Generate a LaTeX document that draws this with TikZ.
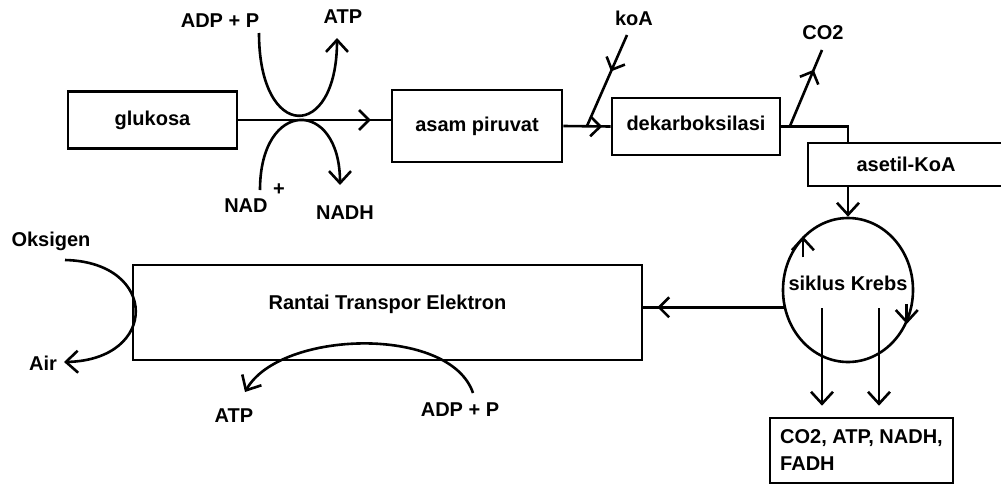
\documentclass[tikz,border=0pt]{standalone}
\usepackage{fontspec}
\setmainfont{Liberation Sans}
\usetikzlibrary{arrows.meta,decorations.markings,shapes.geometric}

\tikzset{
  kotak/.style={draw,line width=2.6pt,inner sep=0pt},
  teks/.style={inner sep=0pt,font=\fontsize{20}{27}\selectfont\bfseries},
  panah/.style={-{Straight Barb[length=12pt,width=22pt]}},
  tengah/.style={postaction={decorate},decoration={markings,
    mark=at position #1 with {\arrow{Straight Barb[length=10pt,width=20pt]}}}}
}

\begin{document}
\begin{tikzpicture}[x=1pt,y=-1pt,line width=2.6pt]
  \useasboundingbox (0,0) rectangle (1001,485);
  % kotak
  \node[kotak,teks,minimum width=169pt,minimum height=57pt] (glukosa) at (152.5,120) {glukosa};
  \node[kotak,teks,minimum width=170pt,minimum height=72pt] (asam) at (477,126) {asam piruvat};
  \node[kotak,teks,minimum width=168pt,minimum height=57pt,text depth=6pt] (dekar) at (696,126.5) {dekarboksilasi};
  \node[kotak,teks,minimum width=196pt,minimum height=43pt] (asetil) at (906,164.5) {asetil-KoA};
  \node[kotak,teks,ellipse,minimum width=130pt,minimum height=144pt,text height=0pt,text depth=0pt] (krebs) at (848,290) {\makebox[0pt]{siklus Krebs}};
  \node[kotak,teks,minimum width=509pt,minimum height=95pt,text depth=20pt] (rantai) at (387.5,312.5) {Rantai Transpor Elektron};
  \node[kotak,teks,minimum width=183pt,minimum height=65pt,align=left] (hasil) at (861.5,450.5) {CO2, ATP, NADH,\\FADH};
  % label
  \node[teks] (adp1) at (220,21) {ADP + P};
  \node[teks] (atp1) at (343,17) {ATP};
  \node[teks,anchor=base west] (nad) at (223,212) {NAD \raisebox{17pt}{+}};
  \node[teks] (nadh) at (345,213) {NADH};
  \node[teks] (koa) at (634,18) {koA};
  \node[teks] (co2) at (823,33) {CO2};
  \node[teks] (oksigen) at (51,241) {Oksigen};
  \node[teks] (air) at (43,363) {Air};
  \node[teks] (atp2) at (234,416) {ATP};
  \node[teks] (adp2) at (460,410) {ADP + P};
  % ujung bebas
  \coordinate (adp1u) at (259,33); \coordinate (atp1u) at (337,38);
  \coordinate (nadu) at (260,190); \coordinate (nadhu) at (340,185);
  \coordinate (koa0) at (627,35); \coordinate (koa1) at (587,126);
  \coordinate (co2a) at (790,126); \coordinate (co2b) at (822,50);
  \coordinate (oksu) at (65,260); \coordinate (airu) at (64,362);
  \coordinate (adp2u) at (473,393); \coordinate (atp2u) at (245,392);
  % glikolisis
  \draw[tengah=0.87] (glukosa.east) -- (glukosa.east -| asam.west);
  \draw[panah] (adp1u) .. controls (259,142) and (337,142) .. (atp1u);
  \draw[panah] (nadu) .. controls (260,98) and (340,98) .. (nadhu);
  % dekarboksilasi
  \draw[tengah=0.82] (asam.east) -- (dekar.west);
  \draw[tengah=0.4] (koa0) -- (koa1);
  \draw (dekar.east) -| (asetil.north west -| krebs.north);
  \draw[tengah=0.74] (co2a) -- (co2b);
  % siklus Krebs
  \draw[panah] (asetil.south -| krebs.north) -- (krebs.north);
  \draw[panah] ([yshift=-21pt]krebs.130) -- (krebs.130);
  \draw[panah] ([yshift=20pt]krebs.-30) -- (krebs.-30);
  \draw[panah] ([shift={(-26,18)}]krebs.center) -- ([shift={(-39.5,-11)}]hasil.north);
  \draw[panah] ([shift={(31,18)}]krebs.center) -- ([shift={(17.5,-11)}]hasil.north);
  \draw[tengah=0.9] (krebs.195) -- (krebs.195 -| rantai.east);
  % transpor elektron
  \draw[panah] (oksu) .. controls (159,262) and (159,360) .. (airu);
  \draw[panah] (adp2u) .. controls (450,325) and (280,330) .. (atp2u);
\end{tikzpicture}
\end{document}
